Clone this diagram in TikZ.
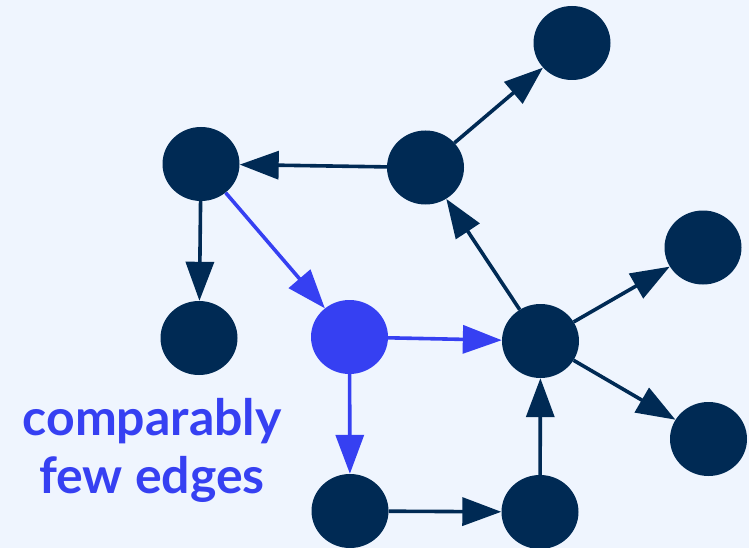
\documentclass[tikz,border=0pt]{standalone}
\usepackage{fontspec}
\setmainfont{Lato}
\usetikzlibrary{arrows.meta,shapes.geometric}
\definecolor{navy}{HTML}{002A54}
\definecolor{accent}{HTML}{3640F2}
\definecolor{paper}{HTML}{EFF5FE}
\begin{document}
\begin{tikzpicture}[x=1pt,y=-1pt,
  vertex/.style={ellipse,fill=navy,draw=none,minimum width=77pt,minimum height=74pt,inner sep=0pt},
  hot/.style={vertex,fill=accent},
  link/.style={draw=navy,line width=3.6pt,-{Triangle[length=39pt,width=28pt]}},
  hotlink/.style={link,draw=accent},
  caption/.style={anchor=base,text=accent,font=\fontsize{50}{58}\selectfont\bfseries}]
  \fill[paper] (0,0) rectangle (749,548);
  \useasboundingbox (0,0) rectangle (749,548);

  \node[vertex] (a) at (201,164) {};
  \node[vertex] (b) at (425.5,167.5) {};
  \node[vertex] (c) at (572,43) {};
  \node[vertex] (d) at (199,338) {};
  \node[hot]    (e) at (349.5,337) {};
  \node[vertex] (f) at (540.5,341) {};
  \node[vertex] (g) at (703,247.5) {};
  \node[vertex] (h) at (708.5,439) {};
  \node[vertex] (i) at (350,511) {};
  \node[vertex] (j) at (540,512) {};

  \draw[link] (b) -- (a);
  \draw[link] (b) -- (c);
  \draw[link] (a) -- (d);
  \draw[hotlink] (a) -- (e);
  \draw[hotlink] (e) -- (f);
  \draw[hotlink] (e) -- (i);
  \draw[link] (i) -- (j);
  \draw[link] (j) -- (f);
  \draw[link] (f) -- (b);
  \draw[link] (f) -- (g);
  \draw[link] (f) -- (h);

  \node[caption] (t1) at (152,435) {comparably};
  \node[caption] (t2) at (152,493) {few edges};
\end{tikzpicture}
\end{document}
